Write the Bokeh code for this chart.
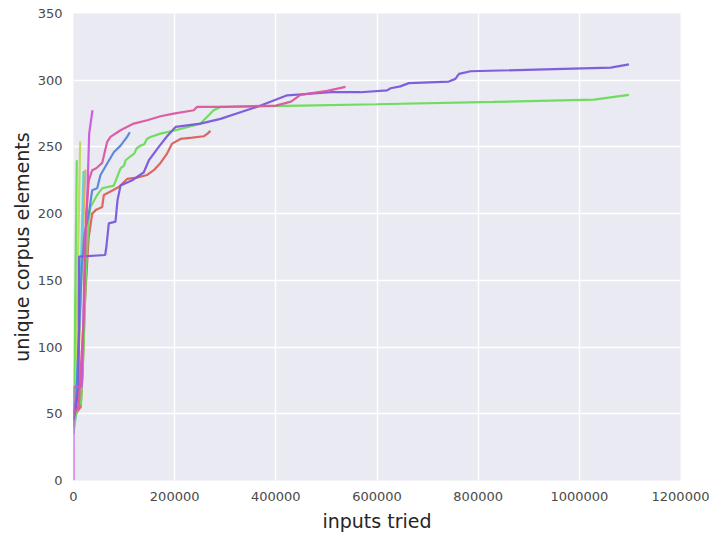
from bokeh.plotting import figure
from bokeh.models import FixedTicker, BasicTickFormatter, Range1d
from bokeh.embed import file_html
from bokeh.resources import INLINE

# ---- data ----
red_x = [0, 5000, 10000, 14000, 18000, 22000, 28000, 30000, 37000, 45000, 56700, 60000, 75000, 89600,
         106000, 125000, 145700, 160000, 172000, 185000, 195000, 211500, 235000, 257600, 265000, 270800]
red_y = [45, 50, 53, 55, 80, 130, 170, 182, 200, 203, 205, 214, 217, 220,
         226, 227, 229, 233, 238, 245, 252.5, 256, 257, 258, 260, 262]

orange_x = [0, 6000, 12000, 18000, 23700]
orange_y = [45, 60, 110, 180, 233]

yelgreen_x = [0, 4000, 8000, 13200]
yelgreen_y = [40, 80, 150, 254]

green_x = [0, 8000, 15000, 20000, 25000, 30000, 33600, 46800, 56700, 79700, 93000, 100000, 103000, 112700,
           120000, 125000, 132500, 140000, 145000, 152000, 172000, 201700, 251000, 277000, 290600, 450000,
           600000, 831000, 1029000, 1098000]
green_y = [40, 55, 58, 100, 160, 195, 205, 214, 219, 221, 234, 236, 240, 243,
           245, 249, 251, 252, 256, 257.5, 260, 262.5, 267.5, 277.5, 280, 281,
           282, 283.7, 285.5, 289]

teal_x = [0, 3000, 6500]
teal_y = [40, 120, 240]

cyan_x = [0, 5000, 12000, 19800]
cyan_y = [35, 50, 120, 232]

blue_x = [0, 5000, 12000, 16400, 22000, 30300, 37000, 46800, 53400, 66600, 79700, 93000, 106000, 111300]
blue_y = [50, 60, 120, 160, 185, 200, 217.6, 219, 229, 237.6, 246, 251, 257.5, 261]

purple_x = [0, 5000, 9900, 11200, 62600, 65000, 69800, 83000, 87000, 93000, 116000, 139000, 149000, 168600,
            185000, 201700, 251000, 290600, 330000, 370000, 422500, 508000, 567000, 620000, 627000, 646000,
            663000, 742000, 755000, 762000, 785000, 1062000, 1098000]
purple_y = [45, 55, 70, 167.8, 169, 175, 192.7, 194, 210, 221, 225, 231, 240, 250,
            258, 265, 267.5, 271, 276, 281, 288.7, 291, 291, 292.4, 294, 295.4,
            297.8, 299, 301, 304.7, 306.7, 309.4, 311.9]

magenta_x = [0, 0, 16400, 23000, 26300, 31000, 37500]
magenta_y = [0, 70, 70.5, 180, 200, 260, 277.5]

pink_x = [0, 10000, 20000, 25000, 30300, 37000, 45000, 56700, 66600, 73000, 93000, 119000, 145700, 172000,
          198000, 237800, 244500, 300000, 400000, 430000, 448700, 501500, 537700]
pink_y = [50, 55, 120, 200, 225, 232.6, 234, 238, 253.8, 257.5, 262.5, 267.5, 270, 273,
          275, 277.5, 280, 280, 281, 284, 289, 292, 295]

series = [
    (red_x, red_y, "#db5f57"),
    (orange_x, orange_y, "#dbae57"),
    (yelgreen_x, yelgreen_y, "#b9db57"),
    (teal_x, teal_y, "#69db57"),
    (cyan_x, cyan_y, "#57d3db"),
    (green_x, green_y, "#69db57"),
    (blue_x, blue_y, "#5784db"),
    (purple_x, purple_y, "#7957db"),
    (magenta_x, magenta_y, "#c957db"),
    (pink_x, pink_y, "#db579e"),
]

x_ticks = [0, 200000, 400000, 600000, 800000, 1000000, 1200000]
y_ticks = [0, 50, 100, 150, 200, 250, 300, 350]

p = figure(width=709, height=534, output_backend="svg", toolbar_location=None,
           x_range=Range1d(0, 1200000), y_range=Range1d(0, 350),
           min_border_left=73, min_border_right=29, min_border_top=13, min_border_bottom=53)

p.background_fill_color = "#EAEAF2"
p.border_fill_color = "white"
p.outline_line_color = None

for xs, ys, c in series:
    p.line(xs, ys, line_color=c, line_width=2.2, line_alpha=0.95)

font = "DejaVu Sans"
p.xaxis.ticker = FixedTicker(ticks=x_ticks)
p.yaxis.ticker = FixedTicker(ticks=y_ticks)
p.xaxis.formatter = BasicTickFormatter(use_scientific=False)
p.yaxis.formatter = BasicTickFormatter(use_scientific=False)
for ax in (p.xaxis, p.yaxis):
    ax.axis_line_color = None
    ax.major_tick_line_color = None
    ax.minor_tick_line_color = None
    ax.major_tick_out = 0
    ax.major_tick_in = 0
    ax.major_label_text_font = font
    ax.major_label_text_font_size = "13px"
    ax.major_label_text_color = "#4a4a4a"
    ax.axis_label_text_font = font
    ax.axis_label_text_font_size = "19px"
    ax.axis_label_text_font_style = "normal"
    ax.axis_label_text_color = "#262626"

p.xaxis.axis_label = "inputs tried"
p.yaxis.axis_label = "unique corpus elements"
p.xaxis.major_label_standoff = 11
p.yaxis.major_label_standoff = 11
p.xaxis.axis_label_standoff = 6
p.yaxis.axis_label_standoff = 2

p.xgrid.grid_line_color = "white"
p.ygrid.grid_line_color = "white"
p.xgrid.grid_line_width = 1.4
p.ygrid.grid_line_width = 1.4

open("out.html", "w").write(file_html(p, INLINE))
